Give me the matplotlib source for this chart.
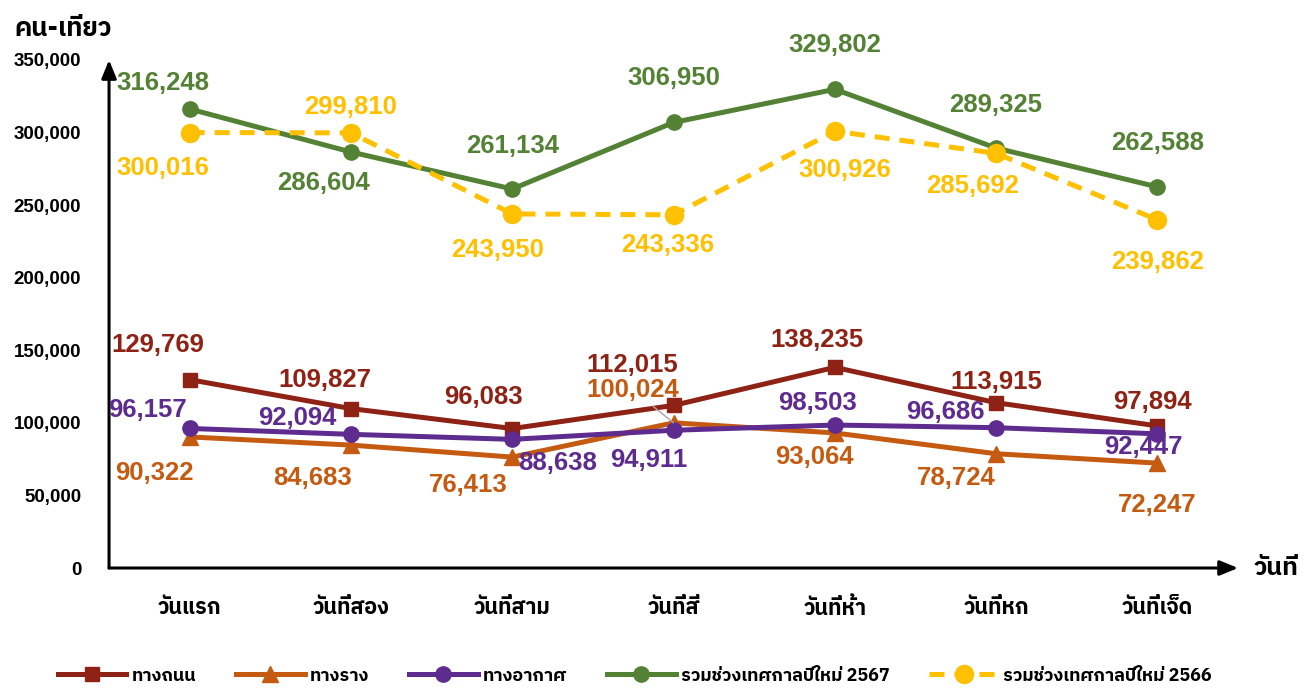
import matplotlib

matplotlib.use("Agg")
import matplotlib.pyplot as plt
from matplotlib import font_manager
from matplotlib.ft2font import FT2Font

days = ["วันแรก", "วันที่สอง", "วันที่สาม", "วันที่สี่", "วันที่ห้า", "วันที่หก", "วันที่เจ็ด"]

road = [129769, 109827, 96083, 112015, 138235, 113915, 97894]
rail = [90322, 84683, 76413, 100024, 93064, 78724, 72247]
air = [96157, 92094, 88638, 94911, 98503, 96686, 92447]
total_2567 = [316248, 286604, 261134, 306950, 329802, 289325, 262588]
total_2566 = [300016, 299810, 243950, 243336, 300926, 285692, 239862]

y_ticks = [0, 50000, 100000, 150000, 200000, 250000, 300000, 350000]


def find_thai_font():
    found = []
    for f in font_manager.fontManager.ttflist:
        try:
            if 0x0E01 in FT2Font(f.fname).get_charmap():
                found.append(f.name)
        except Exception:
            pass
    found = sorted(set(found), key=lambda n: ("Thai" not in n, "Looped" in n, "UI" in n, n))
    return found[0] if found else "DejaVu Sans"


thai = find_thai_font()
num_font = ["Liberation Sans", "DejaVu Sans"]
thai_font = [thai, "Liberation Sans", "DejaVu Sans"]
plt.rcParams["font.family"] = thai_font

fig = plt.figure(figsize=(13.09, 6.88), dpi=100)
ax = fig.add_axes([0.0833, 0.1744, 0.8625, 0.7384])
x = list(range(len(days)))

# label offsets in pixels (dx, dy) for each point
series = [
    ("ทางถนน", road, "#8E2215", "s", "-", 10,
     [(-32, 35), (-26, 29), (-29, 32), (-41, 40), (-18, 27), (0, 21), (-5, 24)]),
    ("ทางราง", rail, "#C55A11", "^", "-", 11,
     [(-35, -36), (-38, -33), (-44, -28), (-41, 33), (-20, -24), (-40, -24), (0, -42)]),
    ("ทางอากาศ", air, "#5E2B8F", "o", "-", 11,
     [(-42, 18), (-54, 16), (45, -24), (-25, -30), (-17, 22), (-51, 16), (-14, -13)]),
    ("รวมช่วงเทศกาลปีใหม่ 2567", total_2567, "#548235", "o", "-", 11,
     [(-27, 26), (-27, -31), (0, 43), (0, 44), (0, 44), (0, 43), (0, 44)]),
    ("รวมช่วงเทศกาลปีใหม่ 2566", total_2566, "#FFC000", "o", "--", 13,
     [(-27, -35), (0, 26), (-15, -36), (-6, -30), (10, -39), (-24, -33), (0, -42)]),
]

handles = []
for name, vals, color, marker, ls, ms, offs in series:
    line, = ax.plot(x, vals, color=color, marker=marker, linestyle=ls, linewidth=3.6,
                    markersize=ms, label=name, clip_on=False, zorder=3)
    if ls == "--":
        line.set_dashes((3, 2))
    handles.append(line)
    for i, v in enumerate(vals):
        dx, dy = offs[i]
        arrow = None
        if name == "ทางราง" and i == 3:
            arrow = dict(arrowstyle="-", color="#A6A6A6", lw=1, shrinkA=2, shrinkB=0)
        ax.annotate(f"{v:,}", (i, v), xytext=(dx, dy), textcoords="offset pixels",
                    ha="center", va="center", color=color, fontsize=18.5,
                    fontweight="bold", family=num_font, arrowprops=arrow, zorder=4)

ax.set_xlim(-0.5, 6.5)
ax.set_ylim(0, 350000)
for s in ax.spines.values():
    s.set_visible(False)

# axes drawn as arrows
ax.annotate("", xy=(6.5, 0), xytext=(-0.5, 0), xycoords="data",
            arrowprops=dict(arrowstyle="-|>,head_length=1.1,head_width=0.45", color="black",
                            lw=2.2, shrinkA=0, shrinkB=0), annotation_clip=False)
ax.annotate("", xy=(-0.5, 350000), xytext=(-0.5, 0), xycoords="data",
            arrowprops=dict(arrowstyle="-|>,head_length=1.1,head_width=0.45", color="black",
                            lw=2.2, shrinkA=0, shrinkB=0), annotation_clip=False)

ax.set_xticks(x)
ax.set_xticklabels(days, fontsize=15.5, fontweight="bold")
ax.set_yticks(y_ticks)
ax.set_yticklabels([f"{t:,}" for t in y_ticks], fontsize=13.5, fontweight="bold", family=num_font)
ax.tick_params(axis="x", length=0, pad=21)
ax.tick_params(axis="y", length=0, pad=20)

fig.text(0.048, 0.958, "คน-เที่ยว", fontsize=18.5, fontweight="bold", ha="center", va="center")
fig.text(0.975, 0.174, "วันที่", fontsize=18, fontweight="bold", ha="center", va="center")

fig.legend(handles=handles, loc="center", bbox_to_anchor=(0.485, 0.018), ncol=5, frameon=False,
           handlelength=3.8, columnspacing=2.2, handletextpad=0.3,
           prop=dict(family=thai_font, size=13, weight="bold"))

fig.savefig("out.png", dpi=100)
